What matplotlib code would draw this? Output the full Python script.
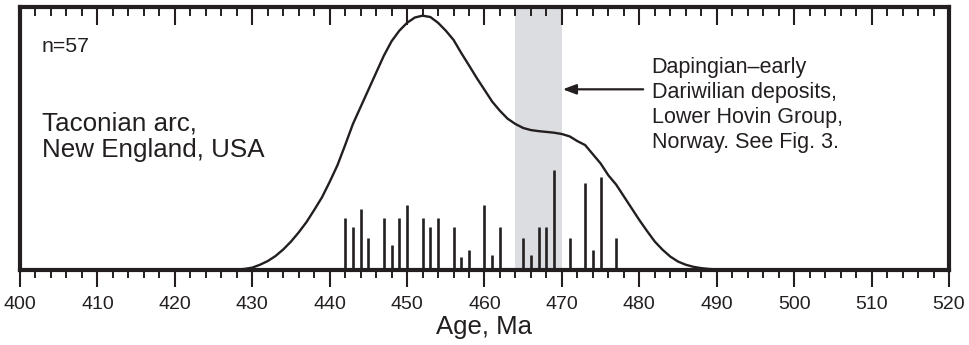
import matplotlib
matplotlib.use("Agg")
import matplotlib.pyplot as plt
from matplotlib.ticker import MultipleLocator

plt.rcParams['font.family'] = ['Liberation Sans', 'DejaVu Sans']

# ---- data ----
curve_age = [426, 427, 428, 429, 430, 431, 432, 433, 434, 435, 436, 437, 438, 439,
             440, 441, 442, 443, 444, 445, 446, 447, 448, 449, 450, 451, 452, 453,
             454, 455, 456, 457, 458, 459, 460, 461, 462, 463, 464, 465, 466, 467,
             468, 469, 470, 471, 472, 473, 474, 475, 476, 477, 478, 479, 480, 481,
             482, 483, 484, 485, 486, 487, 488, 489, 490, 491, 492]
curve_prob = [0, 0.1, 0.2, 0.4, 0.9, 2.0, 3.4, 5.3, 7.8, 10.8, 14.3, 18.2, 22.8, 27.6,
              33.5, 39.8, 47.5, 55.5, 62, 68.5, 75, 81.5, 87, 91, 94, 96, 96.7, 96.2,
              94, 91, 87.5, 82.5, 77.8, 73, 68.5, 64, 60.5, 57.5, 55.5, 54, 53.2, 52.8,
              52.5, 52.2, 51.7, 50.8, 49, 47.5, 44, 40.5, 36, 32.5, 28, 23.5, 19, 14.8,
              10.8, 7.7, 5.1, 3.2, 2.0, 1.2, 0.7, 0.4, 0.2, 0.1, 0]

bar_age = [442, 443, 444, 445, 447, 448, 449, 450, 452, 453, 454, 456, 457, 458,
           460, 461, 462, 465, 466, 467, 468, 469, 471, 473, 474, 475, 477]
bar_height = [19.6, 16.2, 23.3, 12.0, 19.6, 9.5, 19.6, 24.7, 19.6, 16.2, 19.6, 16.2,
              5.1, 7.7, 24.7, 5.8, 16.2, 12.0, 5.8, 16.2, 16.2, 38.1, 12.0, 33.1,
              7.7, 35.4, 12.0]

band_range = [464, 470]
x_ticks = [400, 410, 420, 430, 440, 450, 460, 470, 480, 490, 500, 510, 520]

ink = '#231f20'

fig = plt.figure(figsize=(9.7, 3.45), dpi=100)
ax = fig.add_axes([20/970, 1-270/345, (949-20)/970, (270-7)/345])

ax.axvspan(band_range[0], band_range[1], color='#dcdde0', lw=0, zorder=0)
ax.vlines(bar_age, 0, bar_height, colors=ink, lw=1.9, zorder=2)
ax.plot(curve_age, curve_prob, color=ink, lw=1.7, zorder=3)

ax.set_xlim(400, 520)
ax.set_ylim(0, 100)
ax.set_yticks([])
ax.set_xticks(x_ticks)
ax.xaxis.set_minor_locator(MultipleLocator(2))
ax.tick_params(axis='x', which='major', bottom=True, top=False, direction='out',
               length=12.5, width=1.5, pad=6, color=ink,
               labelsize=14, labelcolor=ink)
ax.tick_params(axis='x', which='minor', bottom=True, top=False, direction='out',
               length=6, width=1.4, color=ink)
# top ticks pointing inward via secondary axis
top = ax.secondary_xaxis('top')
top.set_xticks(x_ticks)
top.xaxis.set_minor_locator(MultipleLocator(2))
top.tick_params(axis='x', which='major', direction='in', length=13, width=1.5,
                color=ink, labeltop=False)
top.tick_params(axis='x', which='minor', direction='in', length=6.5, width=1.4,
                color=ink)
top.spines['top'].set_visible(False)

for s in ax.spines.values():
    s.set_linewidth(3)
    s.set_color(ink)

ax.set_xlabel('Age, Ma', fontsize=18.5, color=ink, labelpad=1.5)

ax.text(402.8, 83.0, 'n=57', fontsize=15.3, color=ink, va='baseline', ha='left')
ax.text(402.8, 53.2, 'Taconian arc,', fontsize=18.7, color=ink, va='baseline', ha='left')
ax.text(402.8, 43.0, 'New England, USA', fontsize=18.7, color=ink, va='baseline', ha='left')

right_lines = ['Dapingian\u2013early', 'Dariwilian deposits,', 'Lower Hovin Group,',
               'Norway. See Fig. 3.']
right_y = [74.8, 65.3, 55.8, 46.3]
for t, y in zip(right_lines, right_y):
    ax.text(481.6, y, t, fontsize=15.5, color=ink, va='baseline', ha='left')

ax.annotate('', xy=(470.1, 68.7), xytext=(480.5, 68.7),
            arrowprops=dict(arrowstyle='-|>,head_length=0.8,head_width=0.3',
                            color=ink, lw=1.6, shrinkA=0, shrinkB=0))

fig.savefig('out.png', dpi=100)
